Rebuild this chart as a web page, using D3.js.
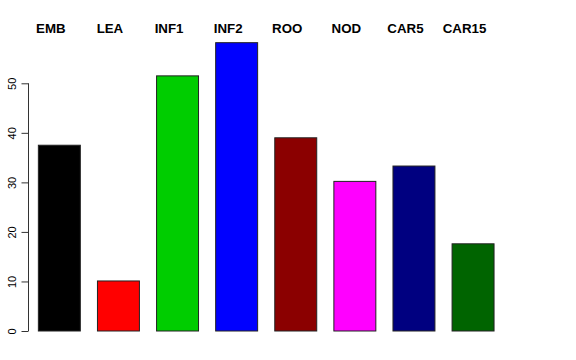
<!DOCTYPE html>
<html><head><meta charset="utf-8">
<script src="https://cdn.jsdelivr.net/npm/d3@7"></script>
<style>body{margin:0;background:#fff}</style>
</head><body>
<svg id="c" width="576" height="360"></svg>
<script>
const categories = ["EMB","LEA","INF1","INF2","ROO","NOD","CAR5","CAR15"];
const values = [37.5, 10.1, 51.5, 58.2, 39.0, 30.2, 33.3, 17.6];
const colors = ["#000000","#FF0000","#00CD00","#0000FF","#8B0000","#FF00FF","#000080","#006400"];
const yTicks = [0,10,20,30,40,50];

const svg = d3.select("#c");
const y = d3.scaleLinear().domain([0,50]).range([331,83.3]);
const x = d3.scaleBand().domain(categories).range([28.4, 503]).paddingInner(0.29).paddingOuter(0.16);

svg.selectAll("rect.bar").data(categories).enter().append("rect")
  .attr("class","bar")
  .attr("x", d => x(d)+0.5)
  .attr("width", x.bandwidth())
  .attr("y", (d,i) => y(values[i]))
  .attr("height", (d,i) => y(0) - y(values[i]))
  .attr("fill", (d,i) => colors[i])
  .attr("stroke", "#222")
  .attr("stroke-width", 1);

svg.selectAll("text.cat").data(categories).enter().append("text")
  .attr("class","cat")
  .attr("x", d => x(d) + x.bandwidth()/2 - 8)
  .attr("y", 33)
  .attr("text-anchor","middle")
  .attr("font-family","Liberation Sans, Arial, sans-serif")
  .attr("font-weight","bold")
  .attr("font-size","13.3px")
  .text(d => d);

const axis = d3.axisLeft(y).tickValues(yTicks).tickSize(7).tickPadding(5).tickFormat(d3.format("d"));
const g = svg.append("g").attr("transform","translate(28.5,0)").call(axis);
g.select(".domain").attr("stroke","#333").attr("d", `M0,${y(0)}V${y(50)}`);
g.selectAll(".tick line").attr("stroke","#333");
g.selectAll(".tick text")
  .attr("font-family","Liberation Sans, Arial, sans-serif")
  .attr("font-size","11px")
  .attr("fill","#000")
  .attr("text-anchor","middle")
  .attr("dy", null)
  .attr("x", null)
  .attr("transform","translate(-12.5,0) rotate(-90)");
</script>
</body></html>
